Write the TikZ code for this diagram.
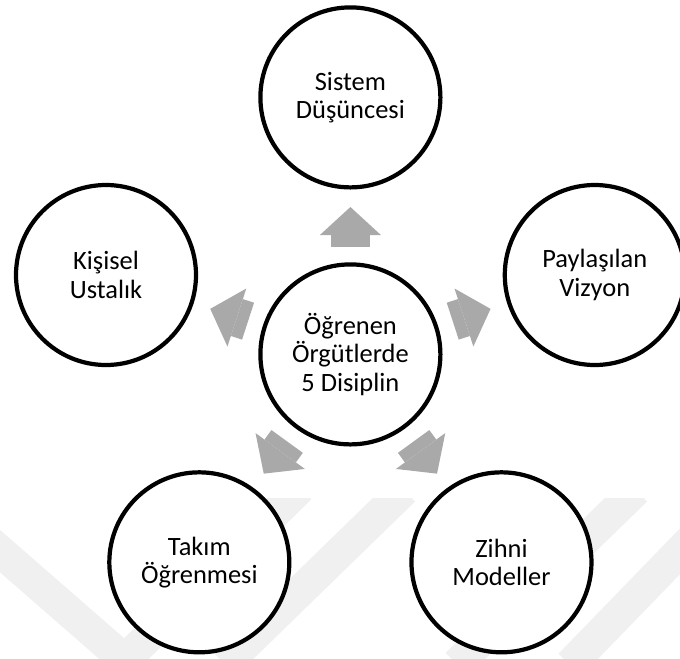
\documentclass[tikz,border=0pt]{standalone}
\usepackage{fontspec}
\setmainfont{Carlito}
\usepackage{xcolor}
\usepackage{tikz}
\usetikzlibrary{arrows.meta}
\definecolor{arrowgray}{HTML}{A9A9A9}
\definecolor{markgray}{HTML}{F0F0F0}
\tikzset{>=latex}
\tikzstyle{disc} = [circle, draw=black, line width=3pt, fill=white, minimum size=4.5cm, inner sep=0, align=center, font=\fontsize{18.8}{20.1}\selectfont]
\tikzstyle{blockarrow} = [-{Triangle[length=0.7cm, width=1.525cm, line width=0pt]}, draw=arrowgray, fill=arrowgray, line width=0.97cm, shorten <=2.69cm, shorten >=2.74cm]
\tikzstyle{watermark} = [draw=markgray, line width=0.8cm]

\begin{document}
\begin{tikzpicture}
\useasboundingbox (-8.76, -7.61) rectangle (8.24, 8.86);
% faint watermark behind the diagram
\begin{scope}
\clip (-8.76, -7.61) rectangle (8.24, -3.59);
\draw [watermark] (-10.51, -3.39) -- (-5.64, -7.64) -- (-1.26, -3.34);
\draw [watermark] (1.34, -3.39) -- (-3.14, -7.75);
\draw [watermark] (7.14, -3.39) -- (2.66, -7.75);
\draw [watermark] (9.24, -3.89) -- (5.49, -7.76);
\end{scope}
\node [disc] (mid) at (0, 0) {Öğrenen\\Örgütlerde\\5 Disiplin};
\node [disc] (sistem) at (0, 6.425) {Sistem\\Düşüncesi};
\node [disc] (paylasim) at (6.11, 1.985) {Paylaşılan\\Vizyon};
\node [disc] (zihni) at (3.777, -5.198) {Zihni\\Modeller};
\node [disc] (takim) at (-3.777, -5.198) {Takım\\Öğrenmesi};
\node [disc] (kisisel) at (-6.11, 1.985) {Kişisel\\Ustalık};
\draw [blockarrow] (mid.center) to (sistem.center);
\draw [blockarrow] (mid.center) to (paylasim.center);
\draw [blockarrow] (mid.center) to (zihni.center);
\draw [blockarrow] (mid.center) to (takim.center);
\draw [blockarrow] (mid.center) to (kisisel.center);
\end{tikzpicture}
\end{document}
